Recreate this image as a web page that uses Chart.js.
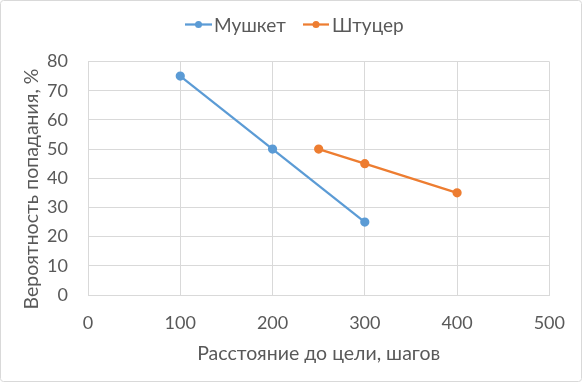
<!DOCTYPE html>
<html><head><meta charset="utf-8">
<script src="https://cdn.jsdelivr.net/npm/chart.js@4/dist/chart.umd.min.js"></script>
<style>html,body{margin:0;padding:0;background:#fff;}#wrap{width:582px;height:382px;}</style>
</head><body><div id="wrap"><canvas id="c" width="582" height="382"></canvas></div>
<script>
const seriesNames = ['Мушкет', 'Штуцер'];
const musketX = [100, 200, 300];
const musketY = [75, 50, 25];
const rifleX = [250, 300, 400];
const rifleY = [50, 45, 35];
const xTitle = 'Расстояние до цели, шагов';
const yTitle = 'Вероятность попадания, %';
const colors = ['#5B9BD5', '#ED7D31'];
const FONT = 'Lato, "Open Sans", sans-serif';

const toPts = (xs, ys) => xs.map((x, i) => ({x, y: ys[i]}));

const custom = {
  id: 'custom',
  afterDraw(chart) {
    const ctx = chart.ctx;
    ctx.save();
    // outer border
    ctx.strokeStyle = '#d9d9d9';
    ctx.lineWidth = 1;
    ctx.beginPath();
    ctx.roundRect ? ctx.roundRect(0.5, 0.5, 581, 381, 3) : ctx.rect(0.5, 0.5, 581, 381);
    ctx.stroke();
    // legend
    const legend = [{x0: 185, x1: 212, tx: 214}, {x0: 303, x1: 329, tx: 332}];
    const ly = 24.5;
    ctx.font = '19px ' + FONT;
    ctx.textBaseline = 'middle';
    ctx.textAlign = 'left';
    legend.forEach((l, i) => {
      ctx.strokeStyle = colors[i];
      ctx.lineWidth = 2.25;
      ctx.beginPath(); ctx.moveTo(l.x0, ly); ctx.lineTo(l.x1, ly); ctx.stroke();
      ctx.fillStyle = colors[i];
      ctx.beginPath(); ctx.arc((l.x0 + l.x1) / 2, ly, 3.5, 0, Math.PI * 2); ctx.fill();
      ctx.fillStyle = '#595959';
      ctx.fillText(seriesNames[i], l.tx, ly + 1);
    });
    // axis titles
    const ca = chart.chartArea;
    ctx.fillStyle = '#595959';
    ctx.font = '19.5px ' + FONT;
    ctx.textAlign = 'center';
    ctx.fillText(xTitle, (ca.left + ca.right) / 2, 354);
    ctx.translate(32, 189);
    ctx.rotate(-Math.PI / 2);
    ctx.fillText(yTitle, 0, 0);
    ctx.restore();
  }
};

new Chart(document.getElementById('c'), {
  type: 'scatter',
  data: {
    datasets: [
      {label: seriesNames[0], data: toPts(musketX, musketY), showLine: true, borderColor: colors[0], backgroundColor: colors[0], borderWidth: 2.25, pointRadius: 3.5, pointHoverRadius: 3.5},
      {label: seriesNames[1], data: toPts(rifleX, rifleY), showLine: true, borderColor: colors[1], backgroundColor: colors[1], borderWidth: 2.25, pointRadius: 3.5, pointHoverRadius: 3.5}
    ]
  },
  options: {
    responsive: false,
    animation: false,
    devicePixelRatio: 1,
    layout: {padding: {left: 0, right: 31, top: 61.5, bottom: 0}},
    plugins: {legend: {display: false}, tooltip: {enabled: false}},
    scales: {
      x: {
        type: 'linear', min: 0, max: 500,
        ticks: {stepSize: 100, color: '#595959', font: {family: FONT, size: 18}, padding: 17},
        grid: {color: '#d9d9d9', drawTicks: false, lineWidth: 1},
        border: {color: '#d9d9d9'},
        afterFit(s) { s.height = 87; }
      },
      y: {
        type: 'linear', min: 0, max: 80,
        ticks: {stepSize: 10, color: '#595959', font: {family: FONT, size: 18}, padding: 20},
        grid: {color: '#d9d9d9', drawTicks: false, lineWidth: 1},
        border: {color: '#d9d9d9'},
        afterFit(s) { s.width = 88; }
      }
    }
  },
  plugins: [custom]
});
</script></body></html>
